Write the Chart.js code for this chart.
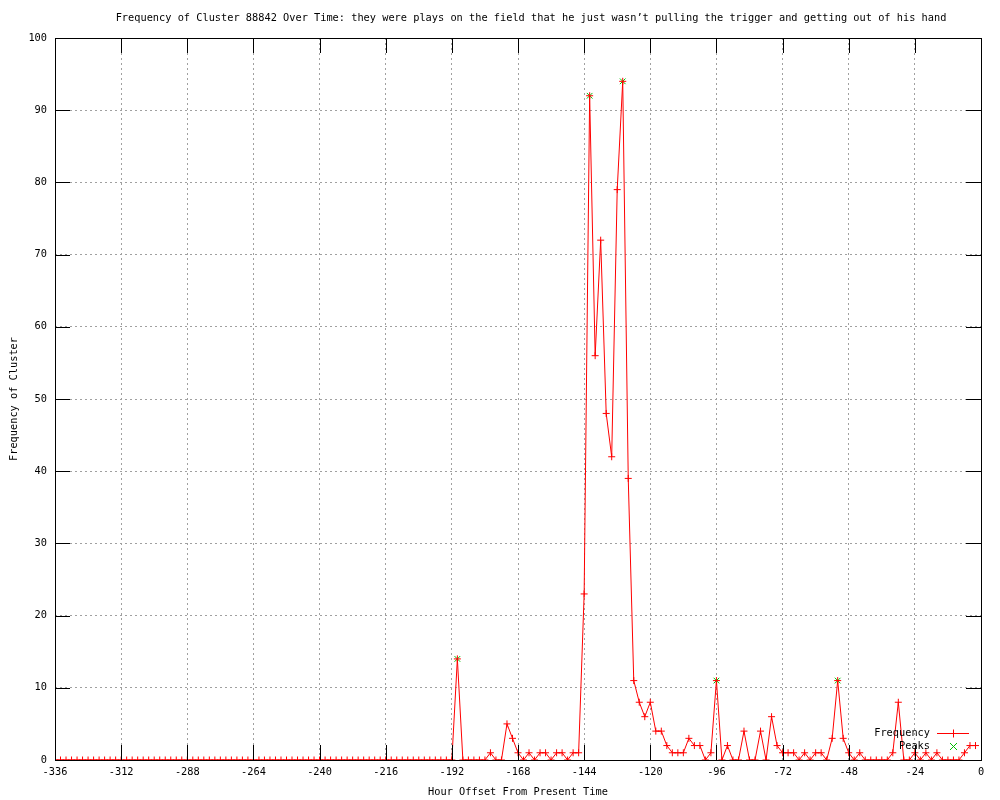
<!DOCTYPE html>
<html>
<head>
<meta charset="utf-8">
<script src="https://cdn.jsdelivr.net/npm/chart.js@4/dist/chart.umd.min.js"></script>
<style>
  html, body { margin: 0; padding: 0; background: #fff; }
  #wrap { width: 1000px; height: 800px; }
</style>
</head>
<body>
<div id="wrap"><canvas id="freqChart" width="1000" height="800"></canvas></div>
<script>
// datos (una muestra cada 2 horas, desde -336 hasta -2)
const startHour = -336;
const stepHours = 2;
const frequency = [
  0,0,0,0,0,0,0,0,0,0,0,0,0,0,0,0,0,0,0,0,0,0,0,0,
  0,0,0,0,0,0,0,0,0,0,0,0,0,0,0,0,0,0,0,0,0,0,0,0,
  0,0,0,0,0,0,0,0,0,0,0,0,0,0,0,0,0,0,0,0,0,0,0,0,
  0,            // -192
  14, 0, 0, 0, 0, 0, 1, 0, 0, 5, 3, 1,          // -190 .. -168
  0, 1, 0, 1, 1, 0, 1, 1, 0, 1, 1,              // -166 .. -146
  23, 92, 56, 72, 48, 42, 79, 94, 39, 11, 8, 6, // -144 .. -122
  8, 4, 4, 2, 1, 1, 1, 3, 2, 2, 0, 1,           // -120 .. -98
  11, 0, 2, 0, 0, 4, 0, 0, 4, 0, 6, 2,          // -96 .. -74
  1, 1, 1, 0, 1, 0, 1, 1, 0, 3, 11, 3,          // -72 .. -50
  1, 0, 1, 0, 0, 0, 0, 0, 1, 8, 0, 0,           // -48 .. -26
  1, 0, 1, 0, 1, 0, 0, 0, 0, 1, 2, 2            // -24 .. -2
];
const peakHours = [-190, -142, -130, -96, -52];
const peakValues = [14, 92, 94, 11, 11];

const titleText = 'Frequency of Cluster 88842 Over Time: they were plays on the field that he just wasn\u2019t pulling the trigger and getting out of his hand';
const xLabel = 'Hour Offset From Present Time';
const yLabel = 'Frequency of Cluster';

const FONT = 'DejaVu Sans Mono';
const FONT_SIZE = 10.3;

const freqPoints = frequency.map((v, i) => ({ x: startHour + i * stepHours, y: v }));
const peakPoints = peakHours.map((h, i) => ({ x: h, y: peakValues[i] }));

// titulo, marco, marcas interiores y leyenda al estilo gnuplot
const gnuplotFrame = {
  id: 'gnuplotFrame',
  afterDatasetsDraw(chart) {
    const { ctx, chartArea: a, scales } = chart;
    ctx.save();
    ctx.font = FONT_SIZE + 'px "' + FONT + '"';
    ctx.fillStyle = '#000';
    ctx.textAlign = 'center';
    ctx.textBaseline = 'middle';
    ctx.fillText(titleText, (a.left + a.right) / 2 + 13, a.top - 20);

    ctx.strokeStyle = '#000';
    ctx.lineWidth = 1;
    ctx.beginPath();
    const tl = 15;
    scales.x.ticks.forEach(t => {
      const px = Math.round(scales.x.getPixelForValue(t.value)) + 0.5;
      ctx.moveTo(px, a.bottom); ctx.lineTo(px, a.bottom - tl);
      ctx.moveTo(px, a.top); ctx.lineTo(px, a.top + tl);
    });
    scales.y.ticks.forEach(t => {
      const py = Math.round(scales.y.getPixelForValue(t.value)) + 0.5;
      ctx.moveTo(a.left, py); ctx.lineTo(a.left + tl, py);
      ctx.moveTo(a.right, py); ctx.lineTo(a.right - tl, py);
    });
    ctx.stroke();
    ctx.strokeRect(Math.round(a.left) + 0.5, Math.round(a.top) + 0.5,
                   Math.round(a.right - a.left), Math.round(a.bottom - a.top));

    // leyenda
    const textX = a.right - 51;
    const sampleL = a.right - 44, sampleR = a.right - 12;
    const midX = Math.round((sampleL + sampleR) / 2);
    const row1 = Math.round(a.bottom - 27), row2 = Math.round(a.bottom - 14);
    ctx.textAlign = 'right';
    ctx.fillText('Frequency', textX, row1);
    ctx.fillText('Peaks', textX, row2);
    ctx.strokeStyle = '#ff0000';
    ctx.beginPath();
    ctx.moveTo(sampleL, row1 + 0.5); ctx.lineTo(sampleR, row1 + 0.5);
    ctx.moveTo(midX + 0.5, row1 - 3.5); ctx.lineTo(midX + 0.5, row1 + 4.5);
    ctx.stroke();
    ctx.strokeStyle = '#00c000';
    ctx.beginPath();
    ctx.moveTo(midX - 3, row2 - 3); ctx.lineTo(midX + 4, row2 + 4);
    ctx.moveTo(midX + 4, row2 - 3); ctx.lineTo(midX - 3, row2 + 4);
    ctx.stroke();
    ctx.restore();
  }
};

const ctx = document.getElementById('freqChart').getContext('2d');
const chart = new Chart(ctx, {
  type: 'line',
  data: {
    datasets: [{
      label: 'Frequency',
      data: freqPoints,
      borderColor: '#ff0000',
      backgroundColor: '#ff0000',
      borderWidth: 1,
      tension: 0,
      pointStyle: 'cross',
      pointRadius: 3.5,
      pointBorderWidth: 1,
      pointBorderColor: '#ff0000'
    }, {
      label: 'Peaks',
      data: peakPoints,
      showLine: false,
      borderColor: '#00c000',
      backgroundColor: '#00c000',
      pointStyle: 'crossRot',
      pointRadius: 4,
      pointBorderWidth: 1,
      pointBorderColor: '#00c000'
    }]
  },
  options: {
    responsive: false,
    animation: false,
    devicePixelRatio: 1,
    layout: { padding: { left: 0, right: 19, top: 38, bottom: 0 } },
    font: { family: FONT, size: FONT_SIZE },
    plugins: {
      legend: { display: false },
      tooltip: { enabled: false },
      title: { display: false }
    },
    scales: {
      x: {
        type: 'linear',
        min: -336,
        max: 0,
        afterFit: s => { s.height = 40; },
        ticks: {
          stepSize: 24,
          color: '#000',
          padding: 6,
          maxRotation: 0,
          autoSkip: false,
          font: { family: FONT, size: FONT_SIZE },
          callback: v => String(v)
        },
        grid: { color: '#a0a0a0', lineWidth: 1, drawTicks: false },
        border: { display: false, dash: [2, 3] },
        title: {
          display: true,
          text: xLabel,
          color: '#000',
          font: { family: FONT, size: FONT_SIZE, lineHeight: 1.2 },
          padding: { top: 0, bottom: 1.8 }
        }
      },
      y: {
        min: 0,
        max: 100,
        afterFit: s => { s.width = 55; },
        ticks: {
          stepSize: 10,
          color: '#000',
          padding: 8,
          font: { family: FONT, size: FONT_SIZE }
        },
        grid: { color: '#a0a0a0', lineWidth: 1, drawTicks: false },
        border: { display: false, dash: [2, 3] },
        title: {
          display: true,
          text: yLabel,
          color: '#000',
          font: { family: FONT, size: FONT_SIZE, lineHeight: 1.2 },
          padding: { top: 7.8, bottom: 0 }
        }
      }
    }
  },
  plugins: [gnuplotFrame]
});
</script>
</body>
</html>
